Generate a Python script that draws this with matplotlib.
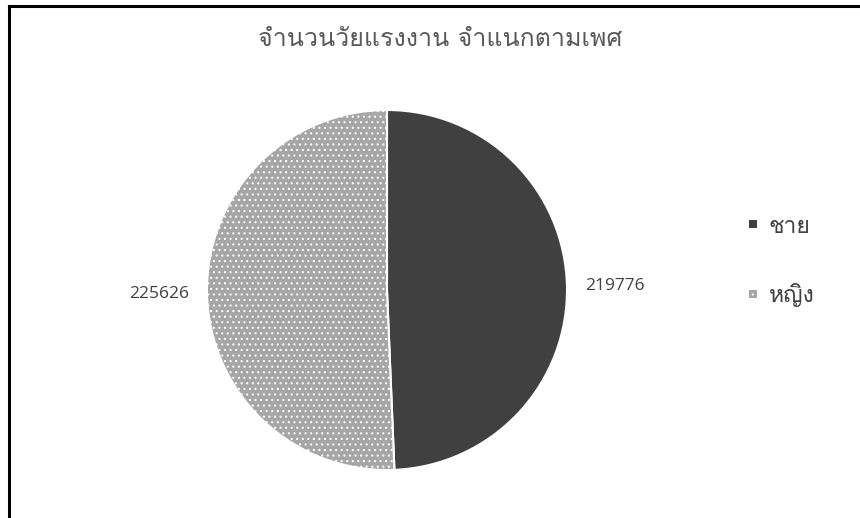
import matplotlib
matplotlib.use("Agg")
import matplotlib.pyplot as plt
from matplotlib import font_manager
from matplotlib.patches import Patch

# ---- data ----
categories = ["ชาย", "หญิง"]
values = [219776, 225626]
title = "จำนวนวัยแรงงาน จำแนกตามเพศ"

# ---- find a font with Thai glyphs ----
thai_family = None
try:
    from fontTools.ttLib import TTFont
    for fe in font_manager.fontManager.ttflist:
        try:
            f = TTFont(fe.fname, fontNumber=0, lazy=True)
            cmap = f.getBestCmap()
            if cmap and ord("ก") in cmap and ord("จ") in cmap:
                thai_family = fe.name
                break
        except Exception:
            pass
except Exception:
    pass
families = ([thai_family] if thai_family else []) + ["DejaVu Sans"]
plt.rcParams["font.family"] = families
plt.rcParams["hatch.linewidth"] = 0.8

colors = ["#404040", "#a6a6a6"]
hatches = [None, "..."]

fig = plt.figure(figsize=(8.6, 5.18), dpi=100)
fig.patch.set_facecolor("white")

# border (left and top)
fig.add_artist(plt.Line2D([9 / 860, 9 / 860], [0, 1 - 6 / 518], color="black", lw=2.2,
                          transform=fig.transFigure))
fig.add_artist(plt.Line2D([9 / 860, 1], [1 - 6 / 518, 1 - 6 / 518], color="black", lw=2.2,
                          transform=fig.transFigure))

cx, cy, r = 387, 518 - 290, 180
ax = fig.add_axes([(cx - r) / 860, (cy - r) / 518, 2 * r / 860, 2 * r / 518])
wedges, texts = ax.pie(values, labels=[str(v) for v in values], startangle=90,
                       counterclock=False, radius=1, labeldistance=1.1,
                       colors=colors,
                       wedgeprops=dict(edgecolor="white", linewidth=1.5),
                       textprops=dict(color="#404040", fontsize=12.5,
                                      family=["Open Sans", "DejaVu Sans"]))
for w, h in zip(wedges, hatches):
    if h:
        w.set_hatch(h)
ax.set_xlim(-1, 1)
ax.set_ylim(-1, 1)
ax.set_aspect("equal")

fig.text(440 / 860, 1 - 40 / 518, title, ha="center", va="center", fontsize=18,
         color="#595959")

handles = [Patch(facecolor=c, edgecolor="white", linewidth=0, hatch=h)
           for c, h in zip(colors, hatches)]
leg = fig.legend(handles, categories, loc="center left",
                 bbox_to_anchor=(728 / 860, 1 - 262 / 518), frameon=False,
                 handlelength=0.38, handleheight=0.18, handletextpad=0.5,
                 labelspacing=2.0, fontsize=16.5)
for t in leg.get_texts():
    t.set_color("#404040")

fig.savefig("out.png", dpi=100, facecolor="white")
